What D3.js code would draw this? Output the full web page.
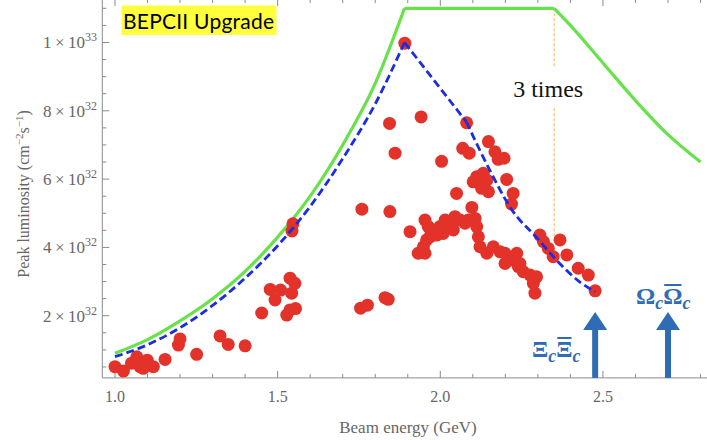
<!DOCTYPE html>
<meta charset="utf-8">
<style>
body {margin: 0; background: #fff;}
svg text {font-family: "Liberation Serif", serif;}
</style>
<body>
<script src="https://d3js.org/d3.v7.min.js"></script>
<script>
var width = 707, height = 440

// measured beams (peak luminosity in units of 1e32 cm^-2 s^-1)
var beamE = [1.000, 1.026, 1.051, 1.067, 1.077, 1.087, 1.099, 1.118, 1.154, 1.195, 1.200, 1.251, 1.323, 1.348, 1.400,
  1.451, 1.477, 1.492, 1.509, 1.538, 1.553, 1.543, 1.528, 1.538, 1.555, 1.547, 1.544,
  1.755, 1.776, 1.830, 1.840, 1.759, 1.891, 1.844, 1.941, 1.861, 2.004, 2.081, 2.069, 2.089,
  2.148, 2.168, 2.178, 2.196, 2.112, 2.132, 2.122, 2.101, 2.143, 2.127, 2.148, 2.204, 2.050,
  2.224, 2.219, 1.845, 2.097, 2.107, 2.112, 1.907, 1.953,
  1.963, 1.979, 1.968, 1.999, 2.015, 2.030, 2.045, 2.061, 2.076, 2.086, 2.040, 2.009, 1.989,
  1.958, 1.948, 1.932, 1.953,
  2.117, 2.122, 2.143, 2.163, 2.184, 2.199, 2.214, 2.199, 2.235, 2.240, 2.255, 2.276, 2.296,
  2.286, 2.291, 2.245,
  2.306, 2.317, 2.332, 2.347, 2.368, 2.389, 2.424, 2.455, 2.476]
var peakL = [0.51, 0.38, 0.61, 0.80, 0.51, 0.46, 0.70, 0.51, 0.72, 1.14, 1.32, 0.87, 1.41, 1.16, 1.12,
  2.08, 2.77, 2.46, 2.75, 3.10, 2.95, 2.66, 2.02, 2.17, 2.21, 4.69, 4.48,
  2.22, 2.31, 2.53, 2.48, 5.12, 9.98, 7.63, 7.82, 6.76, 6.52, 7.65, 6.90, 6.76,
  7.10, 6.80, 6.58, 6.61, 6.07, 6.17, 5.88, 5.92, 5.97, 5.73, 5.63, 5.99, 5.58,
  5.58, 5.27, 5.05, 5.17, 4.85, 4.61, 4.46, 4.80,
  4.61, 4.51, 4.31, 4.61, 4.80, 4.71, 4.90, 4.80, 4.71, 4.80, 4.51, 4.41, 4.36,
  4.22, 4.02, 3.83, 3.83,
  4.31, 4.02, 3.83, 4.02, 3.87, 3.83, 3.63, 3.53, 3.83, 3.44, 3.29, 3.19, 3.14,
  2.95, 2.66, 3.53,
  4.36, 4.17, 3.97, 3.73, 4.22, 3.78, 3.39, 3.19, 2.73]

// upgrade goal (green) and design curve (blue dashed)
var upgradeRiseE = [1.0, 1.1, 1.2, 1.3, 1.4, 1.5, 1.6, 1.7, 1.8, 1.89]
var upgradeRiseL = [0.90, 1.30, 1.85, 2.5, 3.3, 4.3, 5.5, 7.0, 8.8, 11.0]
var upgradeFallE = [1.89, 2.35, 2.4, 2.5, 2.6, 2.7, 2.8]
var upgradeFallL = [11.0, 11.0, 10.5, 9.4, 8.3, 7.3, 6.5]
var designRiseE = [1.0, 1.1, 1.2, 1.3, 1.4, 1.5, 1.6, 1.7, 1.8, 1.89]
var designRiseL = [0.80, 1.15, 1.65, 2.3, 3.1, 4.05, 5.2, 6.6, 8.2, 10.0]
var designFallE = [1.89, 2.08, 2.15, 2.22, 2.30, 2.36, 2.43, 2.476]
var designFallL = [10.0, 7.68, 6.3, 5.1, 4.25, 3.6, 2.98, 2.70]

var xTicks = [1.0, 1.5, 2.0, 2.5]
var yTicks = [2, 4, 6, 8, 10]
var yTickExp = ["32", "32", "32", "32", "33"]
var yTickMant = ["2", "4", "6", "8", "1"]

var thresholds = [{e: 2.476, name: "\u039E"}, {e: 2.70, name: "\u03A9"}]
var threeTimesE = 2.35

var x = d3.scaleLinear().domain([0.961, 2.83]).range([102.3, 710.3])
var y = d3.scaleLinear().domain([0.18, 11.1]).range([377.9, 4.9])

var svg = d3.select("body").append("svg")
  .attr("width", width).attr("height", height)

// frame
svg.append("line").attr("x1", x(0.961)).attr("x2", x(0.961)).attr("y1", 0).attr("y2", y(0.18))
  .attr("stroke", "#8a8a8a")
svg.append("line").attr("x1", x(0.961)).attr("x2", width).attr("y1", y(0.18)).attr("y2", y(0.18))
  .attr("stroke", "#8a8a8a")

var xMinor = d3.range(1.0, 2.85, 0.1)
svg.append("g").selectAll("line").data(xMinor).enter().append("line")
  .attr("x1", d => x(d)).attr("x2", d => x(d))
  .attr("y1", y(0.18)).attr("y2", d => y(0.18) - (xTicks.some(t => Math.abs(t - d) < 1e-6) ? 7 : 4))
  .attr("stroke", "#8a8a8a")
svg.append("g").selectAll("line").data(xMinor).enter().append("line")
  .attr("x1", d => x(d)).attr("x2", d => x(d))
  .attr("y1", 0).attr("y2", d => (xTicks.some(t => Math.abs(t - d) < 1e-6) ? 6 : 3))
  .attr("stroke", "#8a8a8a")
svg.append("g").selectAll("text").data(xTicks).enter().append("text")
  .attr("x", d => x(d)).attr("y", 401.5).attr("text-anchor", "middle")
  .attr("fill", "#666").style("font-size", "16px")
  .text(d3.format(".1f"))

var yMinor = d3.range(0.5, 11.01, 0.5)
svg.append("g").selectAll("line").data(yMinor).enter().append("line")
  .attr("x1", x(0.961)).attr("x2", d => x(0.961) + (d % 2 === 0 ? 7 : 4))
  .attr("y1", d => y(d)).attr("y2", d => y(d))
  .attr("stroke", "#8a8a8a")
var yl = svg.append("g").selectAll("text").data(yTicks).enter().append("text")
  .attr("x", 97).attr("y", d => y(d) + 6).attr("text-anchor", "end")
  .attr("fill", "#666").style("font-size", "17px")
yl.append("tspan").text((d, i) => yTickMant[i] + "\u2009\u00D7\u200910")
yl.append("tspan").attr("dy", -7).style("font-size", "12px").text((d, i) => yTickExp[i])

svg.append("text").attr("transform", "translate(29,194) rotate(-90)")
  .attr("text-anchor", "middle").attr("fill", "#666").style("font-size", "16px")
  .call(t => {
    t.append("tspan").text("Peak luminosity (cm")
    t.append("tspan").attr("dy", -6).style("font-size", "11px").text("\u22122")
    t.append("tspan").attr("dy", 6).text("s")
    t.append("tspan").attr("dy", -6).style("font-size", "11px").text("\u22121")
    t.append("tspan").attr("dy", 6).text(")")
  })
svg.append("text").attr("x", 408).attr("y", 433).attr("text-anchor", "middle")
  .attr("fill", "#666").style("font-size", "17px").text("Beam energy (GeV)")

// "3 times" guide
svg.append("line").attr("x1", x(threeTimesE)).attr("x2", x(threeTimesE))
  .attr("y1", y(11)).attr("y2", y(4.3))
  .attr("stroke", "#f4b740").attr("stroke-width", 1).attr("stroke-dasharray", "3,2")
svg.append("rect").attr("x", 510).attr("y", 68).attr("width", 78).attr("height", 38).attr("fill", "#fff")
svg.append("text").attr("x", x(threeTimesE) - 6).attr("y", 97).attr("text-anchor", "middle")
  .style("font-size", "24px").attr("fill", "#111").text("3 times")

var mono = d3.line().x(d => x(d[0])).y(d => y(d[1])).curve(d3.curveMonotoneX)
var lin = d3.line().x(d => x(d[0])).y(d => y(d[1]))

var green = {fill: "none", stroke: "#68e24a", "stroke-width": 3.2}
var dash = {fill: "none", stroke: "#1b2de0", "stroke-width": 2.8, "stroke-dasharray": "8,4"}
function styled(s) { return function(p) { for (var k in s) p.attr(k, s[k]) } }

svg.append("path").datum(d3.zip(upgradeRiseE, upgradeRiseL)).attr("d", mono).call(styled(green))
svg.append("path").datum(d3.zip(upgradeFallE, upgradeFallL).slice(0, 2)).attr("d", lin).call(styled(green))
svg.append("path").datum(d3.zip(upgradeFallE, upgradeFallL).slice(1)).attr("d", mono).call(styled(green))

svg.selectAll(".pt").data(d3.zip(beamE, peakL)).enter().append("circle")
  .attr("class", "pt").attr("cx", d => x(d[0])).attr("cy", d => y(d[1])).attr("r", 6.5)
  .attr("fill", "#e3322a")

svg.append("path").datum(d3.zip(designRiseE, designRiseL)).attr("d", mono).call(styled(dash))
svg.append("path").datum(d3.zip(designFallE, designFallL).slice(0, 2)).attr("d", lin).call(styled(dash))
svg.append("path").datum(d3.zip(designFallE, designFallL).slice(1)).attr("d", mono).call(styled(dash))

// label box
svg.append("rect").attr("x", 121.5).attr("y", 5.5).attr("width", 155).attr("height", 29.5).attr("fill", "#ffff3c")
svg.append("text").attr("x", 123).attr("y", 29).style("font-family", "Lato, sans-serif")
  .style("font-size", "21px").attr("fill", "#000").attr("textLength", 151).text("BEPCII Upgrade")

// threshold arrows
var blue = "#2e6db5"
thresholds.forEach(function(t) {
  var cx = x(t.e), base = y(0.18)
  svg.append("rect").attr("x", cx - 3).attr("y", base - 50).attr("width", 6).attr("height", 50).attr("fill", blue)
  svg.append("path").attr("d", d3.line()([[cx - 12, base - 48], [cx + 12, base - 48], [cx, base - 66]]))
    .attr("fill", blue)
})
function pairLabel(t, lx, ly) {
  var g = svg.append("text").attr("x", lx).attr("y", ly).attr("fill", blue)
    .style("font-size", "24px").style("font-weight", "bold")
  g.append("tspan").text(t.name)
  g.append("tspan").attr("dy", 5).style("font-size", "18px").style("font-style", "italic").text("c")
  g.append("tspan").attr("dy", -5).text(t.name)
  g.append("tspan").attr("dy", 5).style("font-size", "18px").style("font-style", "italic").text("c")
  var b = g.node().getExtentOfChar(2)
  svg.append("line").attr("x1", b.x + 1).attr("x2", b.x + b.width - 1)
    .attr("y1", b.y + 2).attr("y2", b.y + 2).attr("stroke", blue).attr("stroke-width", 2)
}
pairLabel(thresholds[0], 532, 357)
pairLabel(thresholds[1], 636, 304)
</script>
